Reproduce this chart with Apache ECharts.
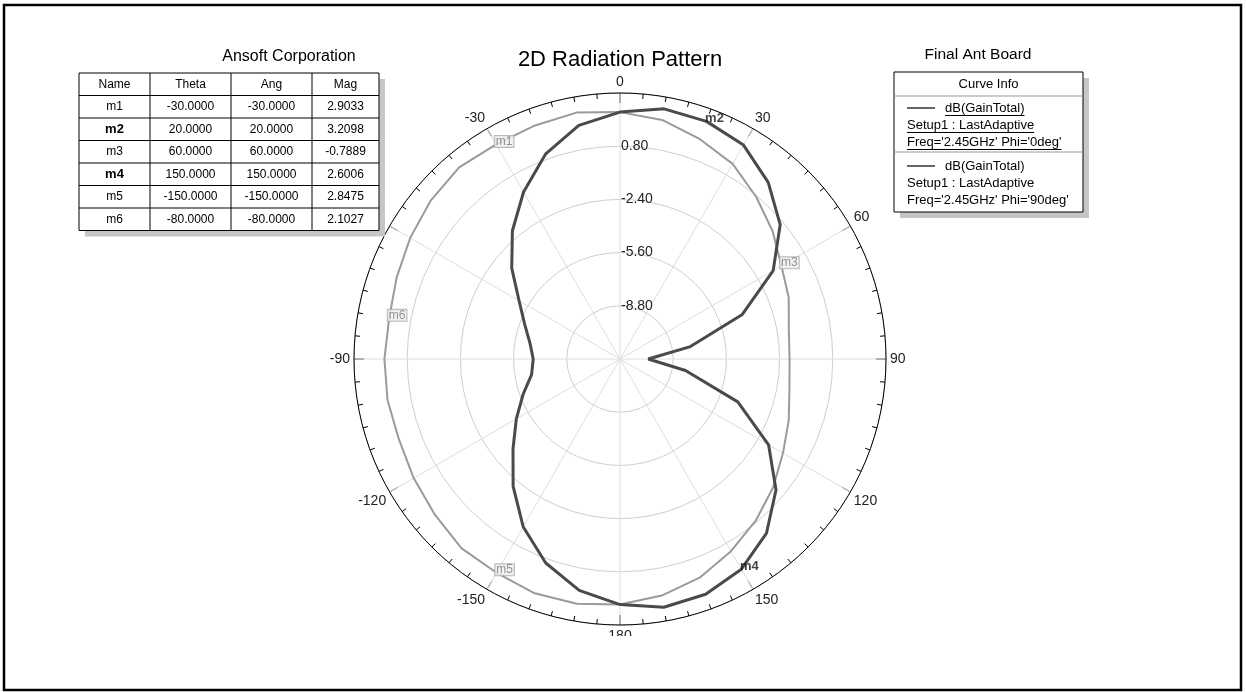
<!DOCTYPE html>
<html>
<head>
<meta charset="utf-8">
<title>2D Radiation Pattern</title>
<script src="https://cdn.jsdelivr.net/npm/echarts@6.0.0/dist/echarts.min.js"></script>
<style>
    html, body { margin: 0; padding: 0; background: #fff; }
    #chart { width: 1246px; height: 692px; }
</style>
</head>
<body>
<div id="chart"></div>
<script>
// theta in degrees, gain in dB
var angles = [-180, -170, -160, -150, -140, -130, -120, -110, -100, -90, -80, -70, -60, -50, -40, -30, -20, -10,
    0, 10, 20, 30, 40, 50, 60, 70, 80, 90, 100, 110, 120, 130, 140, 150, 160, 170, 180];
var gainPhi0 = [2.77, 2.13, 1.06, -0.35, -2.00, -3.60, -4.80, -5.80, -6.60, -6.78, -6.50, -5.90, -4.99, -3.50, -1.93, -0.40, 1.11, 2.27,
    2.85, 3.28, 3.21, 2.86, 1.87, 0.58, -1.36, -4.17, -7.70, -10.30, -8.00, -4.46, -1.68, 0.25, 1.70, 2.60, 3.06, 3.16, 2.77];
var gainPhi90 = [2.77, 2.95, 3.00, 2.85, 2.85, 2.55, 2.33, 2.15, 2.20, 2.17, 2.10, 2.30, 2.57, 2.85, 3.05, 2.90, 2.95, 3.05,
    2.85, 2.60, 2.07, 1.55, 0.74, -0.02, -0.79, -1.20, -1.69, -1.80, -1.65, -1.20, -0.68, 0.02, 0.70, 1.35, 2.00, 2.45, 2.77];

// markers
var markerNames = ["m1", "m2", "m3", "m4", "m5", "m6"];
var markerTheta = [-30, 20, 60, 150, -150, -80];
var markerAng = [-30, 20, 60, 150, -150, -80];
var markerMag = [2.9033, 3.2098, -0.7889, 2.6006, 2.8475, 2.1027];
var markerActive = [false, true, false, true, false, false];

var tableHeader = ["Name", "Theta", "Ang", "Mag"];
var curveNames = ["dB(GainTotal)", "dB(GainTotal)"];
var curveSetup = ["Setup1 : LastAdaptive", "Setup1 : LastAdaptive"];
var curveFreq = ["Freq='2.45GHz' Phi='0deg'", "Freq='2.45GHz' Phi='90deg'"];

var rMin = -12, rMax = 4, rStep = 3.2;

var font = "'Liberation Sans', Arial, sans-serif";
var chart = echarts.init(document.getElementById("chart"));

function toPolar(gain) {
    return angles.map(function (a, i) {
        return [gain[i], (a + 360) % 360];
    });
}

var measureCtx = document.createElement("canvas").getContext("2d");
function textWidth(str, size) {
    measureCtx.font = size + "px " + font;
    return measureCtx.measureText(str).width;
}

// ---- marker table ----
var colX = [79, 150, 231, 312, 379];
var tableTop = 73, rowH = 22.5;
var tableRows = markerNames.map(function (n, i) {
    return [n, markerTheta[i].toFixed(4), markerAng[i].toFixed(4), markerMag[i].toFixed(4)];
});
var nRows = tableRows.length + 1;
var tableW = colX[colX.length - 1] - colX[0];
var tableH = rowH * nRows;

var tableEls = [
    { type: "rect", z: 60, shape: { x: colX[0] + 6, y: tableTop + 6, width: tableW, height: tableH }, style: { fill: "#c6c6c6" } },
    { type: "rect", z: 61, shape: { x: colX[0], y: tableTop, width: tableW, height: tableH }, style: { fill: "#fff", stroke: "#000", lineWidth: 1 } }
];
for (var r = 1; r < nRows; r++) {
    tableEls.push({ type: "line", z: 62, shape: { x1: colX[0], y1: tableTop + r * rowH, x2: colX[4], y2: tableTop + r * rowH }, style: { stroke: "#000", lineWidth: 1 } });
}
for (var c = 1; c < colX.length - 1; c++) {
    tableEls.push({ type: "line", z: 62, shape: { x1: colX[c], y1: tableTop, x2: colX[c], y2: tableTop + tableH }, style: { stroke: "#000", lineWidth: 1 } });
}
[tableHeader].concat(tableRows).forEach(function (row, ri) {
    row.forEach(function (txt, ci) {
        var bold = ri > 0 && ci === 0 && markerActive[ri - 1];
        tableEls.push({
            type: "text", z: 63,
            x: (colX[ci] + colX[ci + 1]) / 2,
            y: tableTop + ri * rowH + rowH / 2,
            style: {
                text: txt, fill: "#000", font: (bold ? "bold 13px " : "12px ") + font,
                align: "center", verticalAlign: "middle"
            }
        });
    });
});

// ---- curve info box ----
var boxX = 894, boxY = 72, boxW = 189, boxH = 140;
var infoEls = [
    { type: "rect", z: 60, shape: { x: boxX + 6, y: boxY + 6, width: boxW, height: boxH }, style: { fill: "#c6c6c6" } },
    { type: "rect", z: 61, shape: { x: boxX, y: boxY, width: boxW, height: boxH }, style: { fill: "#fff", stroke: "#000", lineWidth: 1 } },
    { type: "text", z: 63, x: boxX + boxW / 2, y: 84, style: { text: "Curve Info", font: "13px " + font, fill: "#000", align: "center", verticalAlign: "middle" } },
    { type: "line", z: 62, shape: { x1: boxX, y1: 96, x2: boxX + boxW, y2: 96 }, style: { stroke: "#999", lineWidth: 1 } },
    { type: "line", z: 62, shape: { x1: boxX, y1: 152, x2: boxX + boxW, y2: 152 }, style: { stroke: "#999", lineWidth: 1 } }
];
curveNames.forEach(function (name, i) {
    var y0 = 108 + i * 58;
    var lines = [
        { t: name, x: 945, y: y0 },
        { t: curveSetup[i], x: 907, y: y0 + 17 },
        { t: curveFreq[i], x: 907, y: y0 + 34 }
    ];
    infoEls.push({ type: "line", z: 62, shape: { x1: 907, y1: y0, x2: 935, y2: y0 }, style: { stroke: "#333", lineWidth: 1.5 } });
    lines.forEach(function (l) {
        infoEls.push({ type: "text", z: 63, x: l.x, y: l.y, style: { text: l.t, font: "13px " + font, fill: "#000", align: "left", verticalAlign: "middle" } });
        if (i === 0) {
            var w = textWidth(l.t, 13);
            infoEls.push({ type: "line", z: 62, shape: { x1: l.x, y1: l.y + 7.5, x2: l.x + w, y2: l.y + 7.5 }, style: { stroke: "#000", lineWidth: 1 } });
        }
    });
});

var option = {
    backgroundColor: "#fff",
    animation: false,
    polar: { center: [620, 359], radius: 266 },
    angleAxis: {
        type: "value",
        min: 0,
        max: 360,
        interval: 30,
        startAngle: 90,
        clockwise: true,
        axisLine: { lineStyle: { color: "#000", width: 1 } },
        axisTick: { inside: true, length: 10, lineStyle: { color: "#000" } },
        minorTick: { show: true, splitNumber: 6, length: 5, lineStyle: { color: "#000" } },
        axisLabel: {
            fontSize: 14, fontFamily: font, color: "#222", margin: 4,
            formatter: function (v) {
                // 360 repeats 0; -60 sits under the marker table
                if (v === 360 || v === 300) return "";
                return String(v > 180 ? v - 360 : v);
            }
        },
        splitLine: { show: true, lineStyle: { color: "#dedede", width: 1 } }
    },
    radiusAxis: {
        type: "value",
        min: rMin,
        max: rMax,
        interval: rStep,
        axisLine: { show: false },
        axisTick: { show: false },
        axisLabel: {
            showMinLabel: false, showMaxLabel: false,
            fontSize: 14, fontFamily: font, color: "#222", margin: -1,
            align: "left", verticalAlign: "middle",
            formatter: function (v) { return v.toFixed(2); }
        },
        splitLine: { show: true, lineStyle: { color: "#cfcfcf", width: 1 } }
    },
    series: [
        {
            name: "Phi=90deg", type: "line", coordinateSystem: "polar",
            data: toPolar(gainPhi90), showSymbol: false, smooth: false,
            lineStyle: { color: "#9a9a9a", width: 2 }, z: 3
        },
        {
            name: "Phi=0deg", type: "line", coordinateSystem: "polar",
            data: toPolar(gainPhi0), showSymbol: false, smooth: false,
            lineStyle: { color: "#4a4a4a", width: 3 }, z: 4
        },
        {
            type: "scatter", coordinateSystem: "polar", symbolSize: 1,
            itemStyle: { color: "rgba(0,0,0,0)" }, z: 6,
            data: markerNames.map(function (n, i) {
                return {
                    name: n,
                    value: [markerMag[i], (markerTheta[i] + 360) % 360],
                    label: markerActive[i]
                        ? { color: "#111", fontWeight: "bold", fontSize: 13 }
                        : { color: "#777", fontSize: 12, backgroundColor: "#f1f1f1", borderColor: "#a8a8a8", borderWidth: 1, padding: [0, 1, -1, 1] }
                };
            }),
            label: { show: true, position: "inside", offset: [8, -3], formatter: "{b}", fontFamily: font }
        }
    ],
    graphic: [
        { type: "text", x: 620, y: 60, z: 50, style: { text: "2D Radiation Pattern", font: "22px " + font, fill: "#000", align: "center", verticalAlign: "middle" } },
        { type: "text", x: 289, y: 57, z: 50, style: { text: "Ansoft Corporation", font: "16px " + font, fill: "#000", align: "center", verticalAlign: "middle" } },
        { type: "text", x: 978, y: 55, z: 50, style: { text: "Final Ant Board", font: "15.5px " + font, fill: "#000", align: "center", verticalAlign: "middle" } },
        { type: "group", children: tableEls },
        { type: "group", children: infoEls },
        { type: "rect", z: 60, shape: { x: 592, y: 636, width: 56, height: 40 }, style: { fill: "#fff" } },
        { type: "rect", z: 70, shape: { x: 4, y: 5, width: 1237, height: 685 }, style: { fill: null, stroke: "#000", lineWidth: 2.5 } }
    ]
};

chart.setOption(option);
</script>
</body>
</html>
